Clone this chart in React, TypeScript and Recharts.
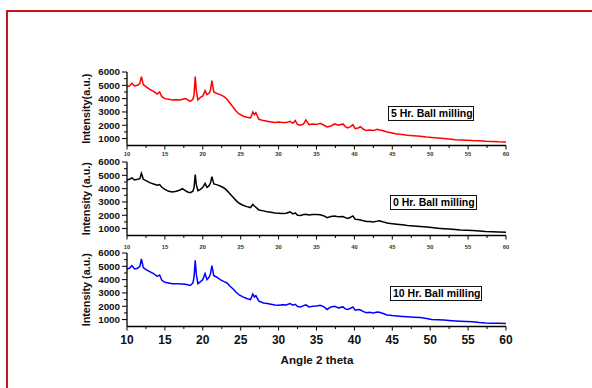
import React from 'react';
import { LineChart, Line, XAxis, YAxis } from 'recharts';

// diffraction angle (2 theta) sample positions, shared by all three scans
const angles = [
  10, 10.3, 10.65, 11.0, 11.4, 11.7, 11.9, 12.15, 12.5, 13.0, 13.5, 14.0, 14.3, 14.6, 15.0, 15.5,
  16.0, 16.5, 17.0, 17.3, 17.7, 18.0, 18.35, 18.7, 18.85, 19.0, 19.15, 19.35, 19.7, 20.0, 20.3,
  20.55, 20.8, 21.0, 21.2, 21.45, 21.8, 22.3, 22.8, 23.2, 23.6, 24.0, 24.4, 24.8, 25.3, 25.8,
  26.3, 26.6, 26.8, 27.0, 27.4, 28.0, 28.5, 29.0, 29.5, 30.0, 30.5, 31.0, 31.5, 31.9, 32.2,
  32.5, 32.9, 33.3, 33.6, 34.0, 34.5, 35.0, 35.5, 36.0, 36.4, 36.9, 37.4, 37.9, 38.5, 38.8,
  39.1, 39.5, 39.8, 40.1, 40.5, 40.8, 41.2, 41.6, 42.0, 42.5, 43.0, 43.3, 43.7, 44.3, 45.0,
  45.6, 46.3, 47.0, 47.8, 48.7, 49.5, 50.2, 51.0, 51.8, 52.5, 53.3, 54.0, 54.8, 55.6, 56.5,
  57.3, 58.2, 59.0, 60.0,
];

const milling5h = [
  4900, 4950, 5150, 4950, 5000, 5150, 5650, 5050, 4900, 4700, 4550, 4350, 4500, 4150, 4000, 3950,
  3900, 3925, 3900, 3950, 4000, 3900, 3800, 3950, 4300, 5650, 4600, 3900, 4100, 4200, 4600,
  4300, 4400, 4600, 5350, 4500, 4400, 4300, 4150, 3950, 3650, 3350, 3050, 2850, 2700, 2600,
  2550, 3000, 2800, 2950, 2450, 2350, 2300, 2250, 2200, 2250, 2200, 2200, 2300, 2150, 2350,
  2050, 2000, 2100, 2400, 2050, 2100, 2050, 2150, 2000, 1880, 1950, 2100, 2000, 2100, 1900,
  1800, 1900, 2050, 1750, 1800, 1900, 1700, 1600, 1650, 1600, 1700, 1650, 1600, 1500, 1420,
  1350, 1300, 1250, 1220, 1180, 1120, 1080, 1040, 1000, 970, 920, 900, 880, 850, 830,
  800, 780, 760, 750,
];

const milling0h = [
  4650, 4700, 4800, 4650, 4700, 4750, 5150, 4700, 4600, 4450, 4350, 4250, 4300, 4100, 3950, 3800,
  3750, 3800, 3900, 4000, 3850, 3750, 3700, 3800, 4100, 5050, 4300, 3850, 3950, 4100, 4400,
  4100, 4200, 4400, 4900, 4350, 4300, 4200, 4050, 3850, 3600, 3350, 3100, 2900, 2750, 2650,
  2580, 2820, 2700, 2600, 2400, 2330, 2270, 2220, 2170, 2150, 2130, 2150, 2250, 2100, 2180,
  2000, 1980, 2050, 2080, 2020, 2060, 2050, 2030, 1950, 1820, 1900, 1950, 1880, 1900, 1820,
  1760, 1850, 1950, 1700, 1680, 1650, 1580, 1530, 1540, 1500, 1560, 1580, 1520, 1420, 1370,
  1330, 1280, 1230, 1200, 1160, 1120, 1080, 1030, 990, 960, 930, 900, 880, 850, 810,
  780, 760, 740, 725,
];

const milling10h = [
  4800, 4850, 5050, 4800, 4850, 5000, 5550, 4900, 4750, 4600, 4450, 4250, 4350, 3950, 3800, 3750,
  3700, 3700, 3680, 3680, 3650, 3620, 3560, 3750, 4200, 5450, 4400, 3700, 3850, 4000, 4450,
  4000, 4150, 4400, 5050, 4300, 4200, 4000, 3850, 3750, 3500, 3300, 3050, 2850, 2700, 2580,
  2500, 2920, 2700, 2800, 2380, 2250, 2200, 2150, 2100, 2080, 2120, 2100, 2200, 2080, 2150,
  1980, 1950, 2050, 2100, 1950, 2000, 2020, 2080, 1950, 1760, 1950, 2000, 1880, 1950, 1800,
  1760, 1850, 1950, 1700, 1750, 1720, 1600, 1520, 1550, 1500, 1570, 1550, 1480, 1350, 1300,
  1270, 1240, 1210, 1180, 1150, 1080, 1000, 980, 960, 930, 900, 880, 860, 830, 780,
  750, 730, 720, 700,
];

const xTicks = [10, 12.5, 15, 17.5, 20, 22.5, 25, 27.5, 30, 32.5, 35, 37.5, 40, 42.5, 45, 47.5, 50, 52.5, 55, 57.5, 60];
const yTicks = [1000, 1500, 2000, 2500, 3000, 3500, 4000, 4500, 5000, 5500, 6000];

const data = angles.map((a, i) => ({
  angle: a,
  h5: milling5h[i],
  h0: milling0h[i],
  h10: milling10h[i],
}));

const FONT = '"Liberation Sans", Arial, sans-serif';

const makeXTick = (fontSize: number, offset: number, color: string) => (props: any) => {
  const { x, y, payload } = props;
  const major = payload.value % 5 === 0;
  return (
    <g>
      <line x1={x} y1={y} x2={x} y2={y + (major ? 4 : 2.5)} stroke="#000" strokeWidth={1} />
      {major && (
        <text x={x} y={y + offset} dy="0.35em" textAnchor="middle" fontSize={fontSize}
          fontWeight="bold" fill={color} fontFamily={FONT}>
          {payload.value}
        </text>
      )}
    </g>
  );
};

const YTick = (props: any) => {
  const { x, y, payload } = props;
  const major = payload.value % 1000 === 0;
  return (
    <g>
      <line x1={x - (major ? 5 : 3)} y1={y} x2={x} y2={y} stroke="#000" strokeWidth={1} />
      {major && (
        <text x={x - 7} y={y} dy="0.35em" textAnchor="end" fontSize={9.8}
          fontWeight="bold" fill="#111" fontFamily={FONT}>
          {payload.value}
        </text>
      )}
    </g>
  );
};

interface PanelProps {
  top: number;
  dataKey: string;
  color: string;
  yLabel: string;
  xTick: (props: any) => React.ReactElement;
}

const Panel: React.FC<PanelProps> = ({ top, dataKey, color, yLabel, xTick }) => (
  <div style={{ position: 'absolute', left: 0, top }}>
    <LineChart width={592} height={113.5} data={data}
      margin={{ top: 10, right: 86, left: 77, bottom: 0 }}>
      <XAxis dataKey="angle" type="number" domain={[10, 60]} ticks={xTicks} interval={0}
        tickSize={0} tickMargin={0} tick={xTick} height={30}
        axisLine={{ stroke: '#000', strokeWidth: 1.3 }} />
      <YAxis type="number" domain={[480, 6000]} ticks={yTicks} interval={0} width={50}
        tickSize={0} tickMargin={0} tick={YTick}
        axisLine={{ stroke: '#000', strokeWidth: 1.3 }}
        label={{
          content: ({ viewBox }: any) => {
            const cx = viewBox.x + 9;
            const cy = viewBox.y + viewBox.height / 2;
            return (
              <text x={cx} y={cy} transform={`rotate(-90 ${cx} ${cy})`} textAnchor="middle"
                dy="0.35em" fontSize={10.8} fontWeight="bold" fill="#111" fontFamily={FONT}>
                {yLabel}
              </text>
            );
          },
        }} />
      <Line type="linear" dataKey={dataKey} stroke={color} strokeWidth={1.5} dot={false}
        isAnimationActive={false} />
    </LineChart>
  </div>
);

const boxStyle = (left: number, top: number, width: number): React.CSSProperties => ({
  position: 'absolute', left, top, width, height: 15, boxSizing: 'border-box',
  border: '1.5px solid #111', background: '#fff', fontFamily: FONT, fontWeight: 'bold',
  fontSize: 10.5, lineHeight: '12px', paddingLeft: 2, whiteSpace: 'nowrap', color: '#000',
});

export default function App() {
  return (
    <div style={{ position: 'absolute', left: 0, top: 0, width: 592, height: 388, background: '#fff', overflow: 'hidden' }}>
      <div style={{ position: 'absolute', left: 6, top: 10, width: 700, height: 500,
        borderTop: '2px solid #c4161c', borderLeft: '2px solid #c4161c' }} />
      <Panel top={61.7} dataKey="h5" color="#ff0000" yLabel="Intensity(a.u.)" xTick={makeXTick(5.8, 8.7, '#333')} />
      <Panel top={152} dataKey="h0" color="#000000" yLabel="Intensity (a.u.)" xTick={makeXTick(5.8, 11, '#333')} />
      <Panel top={242.7} dataKey="h10" color="#0000ff" yLabel="Intensity (a.u.)" xTick={makeXTick(12, 13.3, '#111')} />
      <div style={boxStyle(388, 106, 86)}>5 Hr. Ball milling</div>
      <div style={boxStyle(390, 195, 87)}>0 Hr. Ball milling</div>
      <div style={boxStyle(390, 286, 92)}>10 Hr. Ball milling</div>
      <div style={{ position: 'absolute', left: 317, top: 359, transform: 'translate(-50%, -50%)',
        fontFamily: FONT, fontWeight: 'bold', fontSize: 11.6, whiteSpace: 'nowrap', color: '#111' }}>
        Angle 2 theta
      </div>
    </div>
  );
}
